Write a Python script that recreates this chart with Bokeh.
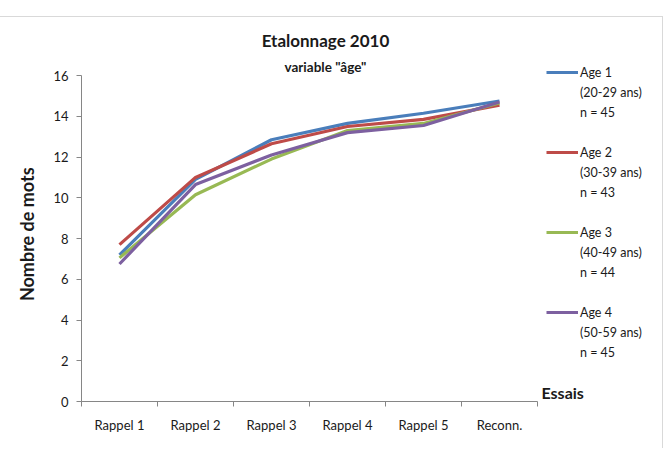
from bokeh.plotting import figure
from bokeh.models import (Range1d, FixedTicker, Legend, LegendItem, Label,
                          ColumnDataSource)
from bokeh.embed import file_html
from bokeh.resources import INLINE

categories = ["Rappel 1", "Rappel 2", "Rappel 3", "Rappel 4", "Rappel 5", "Reconn."]
age1 = [7.2, 10.9, 12.85, 13.65, 14.15, 14.75]
age2 = [7.7, 11.0, 12.65, 13.5, 13.85, 14.55]
age3 = [7.05, 10.15, 11.9, 13.3, 13.65, 14.65]
age4 = [6.75, 10.65, 12.1, 13.2, 13.55, 14.7]
series_names = ["Age 1", "Age 2", "Age 3", "Age 4"]
series_ranges = ["(20-29 ans)", "(30-39 ans)", "(40-49 ans)", "(50-59 ans)"]
series_n = ["n = 45", "n = 43", "n = 44", "n = 45"]
colors = ["#4A7EBB", "#BE4B48", "#98B954", "#7D60A0"]
y_ticks = [0, 2, 4, 6, 8, 10, 12, 14, 16]
y_max = 16

FONT = "Lato"
TXT = "#1a1a1a"
ncat = len(categories)
xpos = [i + 0.5 for i in range(ncat)]

p = figure(width=663, height=432, output_backend="svg", toolbar_location=None,
           x_range=Range1d(0, 7.5), y_range=Range1d(0, 18.85),
           min_border_left=81, min_border_right=12, min_border_top=0,
           min_border_bottom=48)
p.styles = {"margin-top": "16px", "border-top": "1px solid #d9d9d9",
            "border-right": "1px solid #d9d9d9"}
p.outline_line_color = None
p.xgrid.visible = False
p.ygrid.visible = False
p.background_fill_color = "white"
p.border_fill_color = "white"

renderers = []
for vals, col in zip([age1, age2, age3, age4], colors):
    src = ColumnDataSource(dict(x=xpos, y=vals))
    r = p.line("x", "y", source=src, line_color=col, line_width=3.2)
    renderers.append(r)

# invisible renderer used for legend text-only rows
blank = p.line(x=[0], y=[0], line_alpha=0)

# x axis
xa = p.xaxis[0]
xa.bounds = (0, ncat)
xa.ticker = FixedTicker(ticks=xpos, minor_ticks=list(range(ncat + 1)))
xa.major_label_overrides = {x: c for x, c in zip(xpos, categories)}
xa.major_tick_line_color = None
xa.major_tick_out = 4
xa.major_tick_in = 0
xa.minor_tick_out = 5
xa.minor_tick_in = 0
xa.minor_tick_line_color = "#868686"
xa.axis_line_color = "#868686"
xa.major_label_standoff = 10
xa.major_label_text_font = FONT
xa.major_label_text_font_size = "13px"
xa.major_label_text_color = TXT

# y axis
ya = p.yaxis[0]
ya.bounds = (0, y_max)
ya.ticker = FixedTicker(ticks=y_ticks)
ya.minor_tick_line_color = None
ya.major_tick_out = 5
ya.major_tick_in = 0
ya.major_tick_line_color = "#868686"
ya.axis_line_color = "#868686"
ya.major_label_standoff = 8
ya.major_label_text_font = FONT
ya.major_label_text_font_size = "13px"
ya.major_label_text_color = TXT
# em/en spaces at the end shift the rotated title down to the centre of the 0-16 axis
ya.axis_label = "Nombre de mots\u2003\u2003\u2003\u2002"
ya.axis_label_text_font = FONT
ya.axis_label_text_font_style = "bold"
ya.axis_label_text_font_size = "18px"
ya.axis_label_text_color = TXT
ya.axis_label_standoff = 12

# titles (drawn inside the extended frame)
p.add_layout(Label(x=3.21, y=17.7, text="Etalonnage 2010", text_font=FONT,
                   text_font_size="17px", text_font_style="bold", text_color=TXT,
                   text_align="center", text_baseline="middle"))
p.add_layout(Label(x=3.21, y=16.42, text='variable "âge"', text_font=FONT,
                   text_font_size="13.5px", text_font_style="bold", text_color=TXT,
                   text_align="center", text_baseline="middle"))

# "Essais" label at right end of x axis
p.add_layout(Label(x=ncat, y=0, x_offset=4, text="Essais",
                   text_font=FONT, text_font_size="16px", text_font_style="bold",
                   text_color=TXT, text_align="left", text_baseline="bottom"))

items = []
for i, r in enumerate(renderers):
    items.append(LegendItem(label=series_names[i], renderers=[r]))
    items.append(LegendItem(label=series_ranges[i], renderers=[blank]))
    items.append(LegendItem(label=series_n[i], renderers=[blank]))
    if i < len(renderers) - 1:
        items.append(LegendItem(label=" ", renderers=[blank]))

legend = Legend(items=items, location=(465, 39), orientation="vertical",
                glyph_width=32, glyph_height=20, label_standoff=2, label_height=20,
                label_text_font=FONT, label_text_font_size="12.5px",
                label_text_color=TXT, label_text_baseline="middle",
                spacing=0, padding=0, margin=0,
                border_line_color=None, background_fill_color=None)
p.add_layout(legend)

open("out.html", "w").write(file_html(p, INLINE))
